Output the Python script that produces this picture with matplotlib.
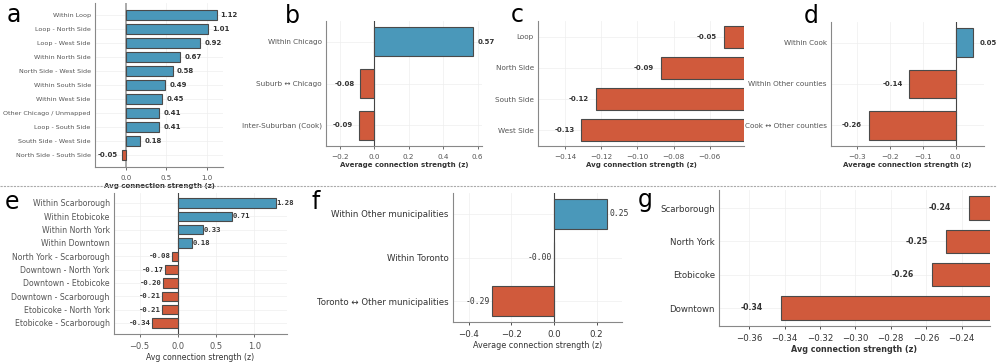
import matplotlib
matplotlib.use("Agg")
import matplotlib.pyplot as plt
from matplotlib.lines import Line2D

BLUE = "#4a98ba"
RED = "#d05a3c"
EDGE = "#4a4a4a"

# ---- data ----
a_labels = ["Within Loop", "Loop - North Side", "Loop - West Side", "Within North Side",
            "North Side - West Side", "Within South Side", "Within West Side",
            "Other Chicago / Unmapped", "Loop - South Side", "South Side - West Side",
            "North Side - South Side"]
a_values = [1.12, 1.01, 0.92, 0.67, 0.58, 0.49, 0.45, 0.41, 0.41, 0.18, -0.05]

b_labels = ["Within Chicago", "Suburb \u2194 Chicago", "Inter-Suburban (Cook)"]
b_values = [0.57, -0.08, -0.09]

c_labels = ["Loop", "North Side", "South Side", "West Side"]
c_values = [-0.052, -0.087, -0.123, -0.131]

d_labels = ["Within Cook", "Within Other counties", "Cook \u2194 Other counties"]
d_values = [0.053, -0.14, -0.264]

e_labels = ["Within Scarborough", "Within Etobicoke", "Within North York", "Within Downtown",
            "North York - Scarborough", "Downtown - North York", "Downtown - Etobicoke",
            "Downtown - Scarborough", "Etobicoke - North York", "Etobicoke - Scarborough"]
e_values = [1.28, 0.71, 0.33, 0.18, -0.08, -0.17, -0.20, -0.21, -0.21, -0.34]

f_labels = ["Within Other municipalities", "Within Toronto", "Toronto \u2194 Other municipalities"]
f_values = [0.25, -0.002, -0.29]

g_labels = ["Scarborough", "North York", "Etobicoke", "Downtown"]
g_values = [-0.236, -0.249, -0.257, -0.342]

fig = plt.figure(figsize=(9.97, 3.62), dpi=100)

W, H = 997.0, 362.0
def box(l, r, t, b):
    return [l / W, 1 - b / H, (r - l) / W, (b - t) / H]

def panel(rect, labels, values, xlim, ylim, xlabel, xticks, fs_tick, fs_val, fs_xl,
          tick_color="#555555", val_weight="bold", val_family="DejaVu Sans",
          xl_weight="bold", off=4, zero_color="#444444", zero_lw=0.8,
          letter=None, letter_pos=None, tick_weight="normal", fs_xtick=None):
    ax = fig.add_axes(rect)
    y = list(range(len(labels)))
    colors = [BLUE if v > 0 else RED for v in values]
    ax.barh(y, values, height=0.7, color=colors, edgecolor=EDGE, linewidth=0.8, zorder=3)
    ax.set_yticks(y)
    ax.set_yticklabels(labels, fontsize=fs_tick, color=tick_color, fontweight=tick_weight)
    ax.set_xlim(*xlim)
    ax.set_ylim(*ylim)
    ax.set_xticks(xticks)
    ax.tick_params(axis="x", labelsize=fs_xtick or fs_tick, colors=tick_color, length=2, width=0.6)
    ax.tick_params(axis="y", length=0, pad=3)
    ax.set_xlabel(xlabel, fontsize=fs_xl, fontweight=xl_weight, color="#333333", labelpad=2)
    for s in ["top", "right"]:
        ax.spines[s].set_visible(False)
    for s in ["left", "bottom"]:
        ax.spines[s].set_color("#888888")
        ax.spines[s].set_linewidth(0.8)
    ax.grid(True, color="#eeeeee", linewidth=0.5, zorder=0)
    ax.axvline(0, color=zero_color, linewidth=zero_lw, zorder=2)
    for yi, v in zip(y, values):
        if v >= 0:
            ax.annotate(f"{v:.2f}", (v, yi), xytext=(off, 0), textcoords="offset points",
                        ha="left", va="center", fontsize=fs_val, fontweight=val_weight,
                        family=val_family, color="#333333", zorder=4)
        else:
            ax.annotate(f"{v:.2f}", (v, yi), xytext=(-off, 0), textcoords="offset points",
                        ha="right", va="center", fontsize=fs_val, fontweight=val_weight,
                        family=val_family, color="#333333", zorder=4)
    if letter:
        fig.text(letter_pos[0] / W, 1 - letter_pos[1] / H, letter, fontsize=17,
                 ha="center", va="center", color="black")
    return ax

# a
panel(box(95, 223, 3, 167), a_labels, a_values, (-0.38, 1.2), (10.88, -0.88),
      "Avg connection strength (z)", [0.0, 0.5, 1.0], 4.6, 5.0, 5.0,
      off=3, zero_color="#aaaaaa", zero_lw=1.4, letter="a", letter_pos=(14, 15), fs_xtick=5.0)
# b
panel(box(326, 482, 21, 146), b_labels, b_values, (-0.28, 0.625), (2.5, -0.5),
      "Average connection strength (z)", [-0.2, 0.0, 0.2, 0.4, 0.6], 5.2, 5.0, 5.0,
      off=4, letter="b", letter_pos=(292, 16))
# c
panel(box(538, 744, 21, 146), c_labels, c_values, (-0.155, -0.041), (3.5, -0.5),
      "Avg connection strength (z)", [-0.14, -0.12, -0.10, -0.08, -0.06], 5.2, 5.0, 5.0,
      off=5, letter="c", letter_pos=(517, 15))
# d
panel(box(831, 984, 22, 146), d_labels, d_values, (-0.378, 0.086), (2.5, -0.5),
      "Average connection strength (z)", [-0.3, -0.2, -0.1, 0.0], 5.2, 5.0, 5.0,
      off=5, letter="d", letter_pos=(811, 16))
# e
panel(box(114, 287, 193, 334), e_labels, e_values, (-0.835, 1.43), (9.83, -0.75),
      "Avg connection strength (z)", [-0.5, 0.0, 0.5, 1.0], 5.6, 5.2, 5.6,
      tick_color="#555555", val_family="DejaVu Sans Mono", xl_weight="normal", off=0.5,
      letter="e", letter_pos=(12, 202), fs_xtick=6.0)
# f
panel(box(453, 622, 193, 322), f_labels, f_values, (-0.474, 0.319), (2.48, -0.48),
      "Average connection strength (z)", [-0.4, -0.2, 0.0, 0.2], 6.2, 5.8, 5.8,
      tick_color="#333333", val_weight="normal", val_family="DejaVu Sans Mono",
      xl_weight="normal", off=1.5, letter="f", letter_pos=(316, 202), tick_weight="medium")
# g
panel(box(719, 990, 190, 326), g_labels, g_values, (-0.377, -0.224), (3.54, -0.54),
      "Avg connection strength (z)", [-0.36, -0.34, -0.32, -0.30, -0.28, -0.26, -0.24],
      6.2, 5.6, 5.8, tick_color="#333333", off=13, letter="g", letter_pos=(645, 200))

# dashed separator
fig.add_artist(Line2D([0.0, 1.0], [1 - 186 / H, 1 - 186 / H], transform=fig.transFigure,
                      color="#aaaaaa", linewidth=0.8, linestyle=(0, (2, 1))))

fig.savefig("out.png", dpi=100, facecolor="white")
